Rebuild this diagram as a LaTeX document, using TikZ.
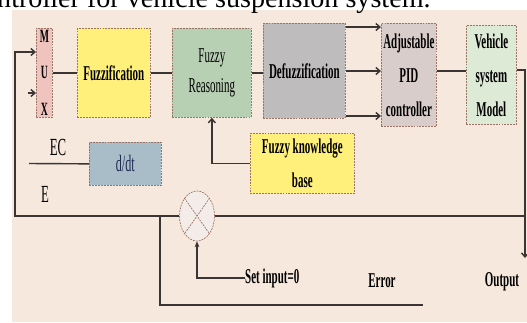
\documentclass[tikz,border=0pt]{standalone}
\usepackage{fontspec}
\setmainfont{Liberation Serif}
\newfontfamily\narrowfont[FakeStretch=0.52]{Liberation Serif}
\usepackage{tikz}
\usetikzlibrary{arrows.meta, positioning, calc, shapes.geometric}
\definecolor{paperBg}{HTML}{F6E8DD}
\definecolor{lineDark}{HTML}{3A3433}
\definecolor{edgeBrown}{HTML}{9C7466}
\definecolor{muxPink}{HTML}{F0C4BE}
\definecolor{fuzzYellow}{HTML}{FFF07C}
\definecolor{reasonGreen}{HTML}{B7CFB3}
\definecolor{defuzzGrey}{HTML}{BEBCBC}
\definecolor{pidGrey}{HTML}{D9CDCB}
\definecolor{plantGreen}{HTML}{DDEAD6}
\definecolor{ddtBlue}{HTML}{A9BDC9}
\definecolor{ddtText}{HTML}{1E2B55}
\definecolor{mixFill}{HTML}{F4ECE8}
\tikzset{
    blk/.style={draw=edgeBrown, dash pattern=on 1.6pt off 0.9pt, line width=0.6pt,
        inner sep=0pt, anchor=north west, align=center,
        font=\narrowfont\fontsize{18}{25}\selectfont\bfseries},
    wire/.style={draw=lineDark, line width=1.2pt},
    sig/.style={wire, -{Straight Barb[length=3.5pt,width=6pt]}},
    lbl/.style={inner sep=0pt, font=\narrowfont\fontsize{18}{20}\selectfont\bfseries}
}

\begin{document}
\begin{tikzpicture}[x=0.03cm, y=-0.03cm]
        \useasboundingbox (0,0) rectangle (527,322);
        \clip (0,0) rectangle (527,322);
        % --- PAGE ---
        \fill[white] (0,0) rectangle (527,322);
        \fill[paperBg] (12,10) rectangle (527,322);
        \node[anchor=base west, inner sep=0pt, font=\fontsize{24}{24}\selectfont] (title) at (-3,7) {ntroller for vehicle suspension system.};

        % --- BLOCKS ---
        \node[blk, fill=muxPink, minimum width=0.48cm, minimum height=2.67cm,
              font=\narrowfont\fontsize{16}{31}\selectfont\bfseries] (mux) at (36,28) {M\\U\\X};
        \node[blk, fill=fuzzYellow, minimum width=2.19cm, minimum height=2.67cm] (fuzz) at (77,28) {Fuzzification};
        \node[blk, fill=reasonGreen, minimum width=2.37cm, minimum height=2.67cm,
              font=\narrowfont\fontsize{18}{26}\selectfont] (reason) at (172,28) {Fuzzy\\Reasoning};
        \node[blk, fill=defuzzGrey, minimum width=2.46cm, minimum height=2.85cm] (defuzz) at (263,23) {Defuzzification};
        \node[blk, fill=pidGrey, minimum width=1.65cm, minimum height=3.09cm,
              font=\narrowfont\fontsize{18}{29}\selectfont\bfseries] (pid) at (381,23) {Adjustable\\PID\\controller};
        \node[blk, fill=plantGreen, minimum width=1.50cm, minimum height=2.97cm,
              font=\narrowfont\fontsize{18}{29}\selectfont\bfseries] (plant) at (466,25) {Vehicle\\system\\Model};
        \node[blk, fill=ddtBlue, minimum width=2.16cm, minimum height=1.29cm,
              font=\narrowfont\fontsize{20}{22}\selectfont, text=ddtText] (ddt) at (89,142) {d/dt};
        \node[blk, fill=fuzzYellow, minimum width=3.12cm, minimum height=1.80cm,
              font=\narrowfont\fontsize{18}{29}\selectfont\bfseries] (kbase) at (250,133) {Fuzzy knowledge\\base};
        \node[ellipse, draw=edgeBrown, dash pattern=on 1.6pt off 0.9pt, line width=0.6pt, fill=mixFill,
              minimum width=1.05cm, minimum height=1.5cm, inner sep=0pt] (mix) at (197,216) {};
        \draw[edgeBrown, dash pattern=on 1.6pt off 0.9pt, line width=0.6pt]
            (mix.north west) -- (mix.south east) (mix.north east) -- (mix.south west);

        % --- LABELS ---
        \node[lbl, font=\narrowfont\fontsize{21}{22}\selectfont] (ecLbl) at (58,147) {EC};
        \node[lbl, font=\narrowfont\fontsize{21}{22}\selectfont] (eLbl) at (45,194) {E};
        \node[lbl, anchor=west] (setin) at (245,278) {Set input=0};
        \node[lbl] (errLbl) at (382,281) {Error};
        \node[lbl] (outLbl) at (502,282) {Output};

        % --- FREE ENDS ---
        \coordinate (outTurn) at (525,70);
        \coordinate (outEnd) at (525,258);
        \coordinate (fbCorner) at (15,216);
        \coordinate (fbTop) at (15,52);
        \coordinate (ecIn) at (28,93);
        \coordinate (dIn) at (29,163.5);
        \coordinate (errTop) at (160,216);
        \coordinate (errBot) at (160,305);
        \coordinate (errEnd) at (423,305);

        % --- FORWARD PATH ---
        \draw[wire] (mux) -- (fuzz);
        \draw[wire] (fuzz) -- (reason);
        \draw[wire] (reason.east) -- (reason.east -| defuzz.west);
        \foreach \yy in {27,71,116}
            \draw[sig] (defuzz.east |- 0,\yy) -- (pid.west |- 0,\yy);
        \draw[wire] (pid.east |- 0,71) -- (plant.west |- 0,71);
        \draw[sig] (plant.east |- outTurn) -- (outTurn) -- (outEnd);
        \draw[sig] (kbase.west) -| (reason.south);

        % --- FEEDBACK ---
        \draw[wire] (outTurn |- mix.east) -- (mix.east);
        \draw[sig] (mix.west) -- (fbCorner) -- (fbTop) -- (mux.west |- fbTop);
        \draw[sig] (ecIn) -- (mux.west |- ecIn);
        \draw[wire] (dIn) -- (ddt.west);
        \draw[wire] (errTop) -- (errBot) -- (errEnd);
        \draw[wire, -{Stealth[length=5pt,width=4pt]}] (setin.west) -| (mix.south);

    \end{tikzpicture}
\end{document}
